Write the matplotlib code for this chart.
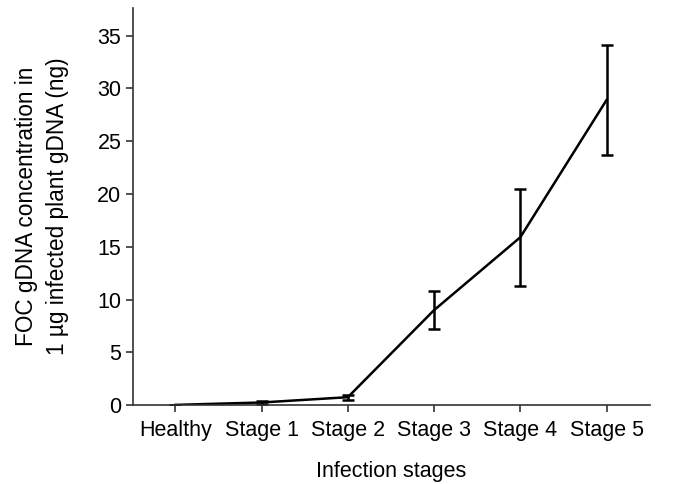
import matplotlib
matplotlib.use('Agg')
import matplotlib.pyplot as plt

# 数据
stages = ['Healthy', 'Stage 1', 'Stage 2', 'Stage 3', 'Stage 4', 'Stage 5']
conc = [0.02, 0.25, 0.75, 9.0, 15.9, 28.9]
err = [0.02, 0.15, 0.25, 1.8, 4.6, 5.2]

plt.rcParams['font.family'] = ['Liberation Sans', 'DejaVu Sans']

fig = plt.figure(figsize=(6.76, 4.84), dpi=100)
ax = fig.add_axes([0.197, 0.163, 0.764, 0.82])

x = list(range(len(stages)))
ax.errorbar(x, conc, yerr=err, color='black', lw=1.8, elinewidth=1.8,
            capsize=4.5, capthick=1.8)

ax.set_xlim(-0.49, 5.5)
ax.set_ylim(0, 37.6)
ax.set_xticks(x)
ax.set_xticklabels(stages)
ax.set_yticks(range(0, 36, 5))
ax.tick_params(labelsize=15.5, width=1.2, length=5, color='#333333')
ax.tick_params(axis='x', pad=6)

for s in ['top', 'right']:
    ax.spines[s].set_visible(False)
for s in ['left', 'bottom']:
    ax.spines[s].set_linewidth(1.2)
    ax.spines[s].set_color('#333333')

ax.set_xlabel('Infection stages', fontsize=15.5, labelpad=14)
ax.set_ylabel('FOC gDNA concentration in\n1 µg infected plant gDNA (ng)',
              fontsize=16.3, labelpad=20, linespacing=1.45)

plt.savefig('out.png', dpi=100)
plt.close()
